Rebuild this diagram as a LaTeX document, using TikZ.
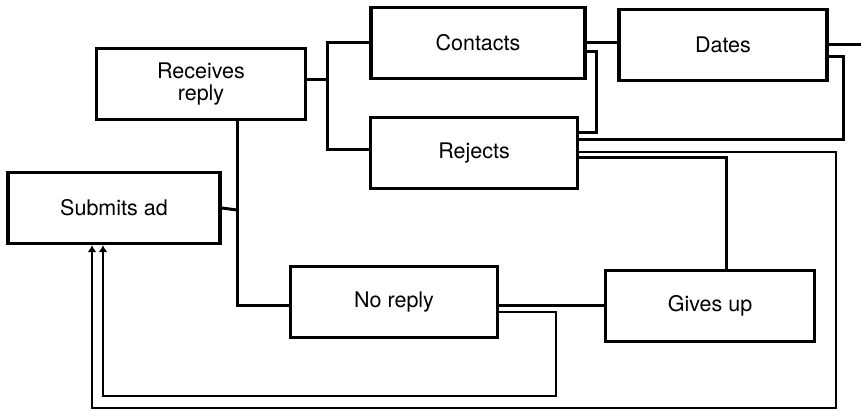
\documentclass[tikz,border=0pt]{standalone}
\usepackage{fontspec}
\setmainfont{TeX Gyre Heros}
\usetikzlibrary{arrows.meta}
\begin{document}
\begin{tikzpicture}[x=1pt,y=-1pt,
  box/.style={draw,line width=3.4pt,minimum height=71pt,inner sep=0pt,align=center,
    font=\fontsize{21.5}{22.5}\selectfont},
  conn/.style={line width=3pt},
  thin/.style={line width=2.2pt},
  arr/.style={-{Latex[length=7pt,width=9pt]}}]
\useasboundingbox (0,0) rectangle (861,411);
\node[box,minimum width=209pt] (rr) at (201,84) {Receives\\reply};
\node[box,minimum width=212pt] (sub) at (114,208) {Submits ad};
\node[box,minimum width=214pt] (cont) at (478,43) {Contacts};
\node[box,minimum width=207pt] (rej) at (474,153) {Rejects};
\node[box,minimum width=208pt] (dates) at (723,45) {Dates};
\node[box,minimum width=207pt] (nr) at (394,302) {No reply};
\node[box,minimum width=209pt] (gu) at (710,306) {Gives up};
\coordinate (j1) at (327,80);
\coordinate (j2) at (237,210);
\coordinate (out) at (861,45);
\coordinate (k) at ([yshift=-3pt]nr.east);
% Receives reply to Contacts / Rejects
\draw[conn] ([yshift=4pt]rr.east) -- (j1);
\draw[conn] (cont.west) -| (j1) |- ([yshift=3pt]rej.west);
% Submits ad / Receives reply / No reply
\draw[conn] (sub.east) -- (j2);
\draw[conn] (rr.south -| j2) |- ([yshift=-3pt]nr.west);
% Contacts to Dates, Dates out
\draw[conn] (cont.east) -- (cont.east -| dates.west);
\draw[conn] (dates.east) -- (out);
% Rejects to Contacts loop
\draw[conn] ([yshift=20pt]rej.east) -- ++(17,0) |- ([yshift=-9pt]cont.east);
% Rejects to Dates loop
\draw[conn] ([yshift=13pt]rej.east) -- ++(264,0) |- ([yshift=-12pt]dates.east);
% Rejects to Gives up
\draw[conn] ([yshift=-5pt]rej.east) -| ([xshift=16pt]gu.north);
% No reply to Gives up
\draw[conn] (k) -- (k -| gu.west);
% inner loop: No reply back to Submits ad
\draw[thin,arr] ([yshift=-10pt]nr.east) -- ++(57,0) |- ([xshift=-11pt,yshift=-151pt]sub.south) -- ([xshift=-11pt]sub.south);
% outer loop: Rejects back to Submits ad
\draw[thin,arr] ([yshift=1pt]rej.east) -- ++(257,0) |- ([xshift=-22pt,yshift=-163pt]sub.south) -- ([xshift=-22pt]sub.south);
\end{tikzpicture}
\end{document}
